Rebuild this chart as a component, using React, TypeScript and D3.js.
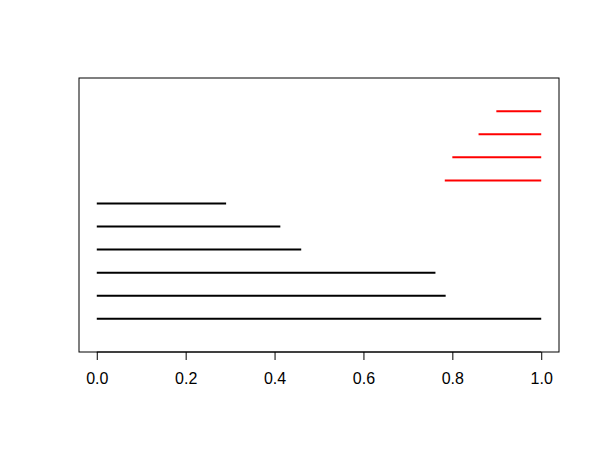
import React, { useRef, useEffect } from 'react';
import * as d3 from 'd3';

// segment rows, bottom to top
const rows = [1, 2, 3, 4, 5, 6, 7, 8, 9, 10];
const starts = [0, 0, 0, 0, 0, 0, 0.783, 0.8, 0.859, 0.899];
const ends = [1.0, 0.785, 0.762, 0.46, 0.413, 0.291, 1.0, 1.0, 1.0, 1.0];
const colors = ['black', 'black', 'black', 'black', 'black', 'black', 'red', 'red', 'red', 'red'];
const xTicks = [0, 0.2, 0.4, 0.6, 0.8, 1.0];

export default function App() {
  const ref = useRef<SVGSVGElement>(null);

  useEffect(() => {
    const svg = d3.select(ref.current);
    svg.selectAll('*').remove();

    const left = 79, right = 559, top = 78, bottom = 352;

    // R style 4% padding on both axes
    const x = d3.scaleLinear().domain([-0.04, 1.04]).range([left, right]);
    const y = d3.scaleLinear().domain([-0.44, 11.44]).range([bottom, top]);

    svg.append('rect')
      .attr('x', left).attr('y', top)
      .attr('width', right - left).attr('height', bottom - top)
      .attr('fill', 'none').attr('stroke', 'black').attr('stroke-width', 1);

    svg.selectAll('line.seg')
      .data(rows)
      .enter().append('line')
        .attr('class', 'seg')
        .attr('x1', (d, i) => x(starts[i]))
        .attr('x2', (d, i) => x(ends[i]))
        .attr('y1', d => y(d))
        .attr('y2', d => y(d))
        .attr('stroke', (d, i) => colors[i])
        .attr('stroke-width', 2);

    const axis = svg.append('g')
      .attr('transform', `translate(0,${bottom})`)
      .call(d3.axisBottom(x).tickValues(xTicks).tickSize(8).tickPadding(13).tickFormat(d3.format('.1f')));
    axis.select('.domain')
      .attr('d', `M${x(0)},0H${x(1)}`)
      .attr('stroke', 'black');
    axis.selectAll('text')
      .attr('font-family', 'Liberation Sans, Arial, sans-serif')
      .attr('font-size', 16)
      .attr('fill', 'black');
  }, []);

  return <svg ref={ref} width={600} height={450} style={{ position: 'absolute', left: 0, top: 0 }}></svg>;
}
